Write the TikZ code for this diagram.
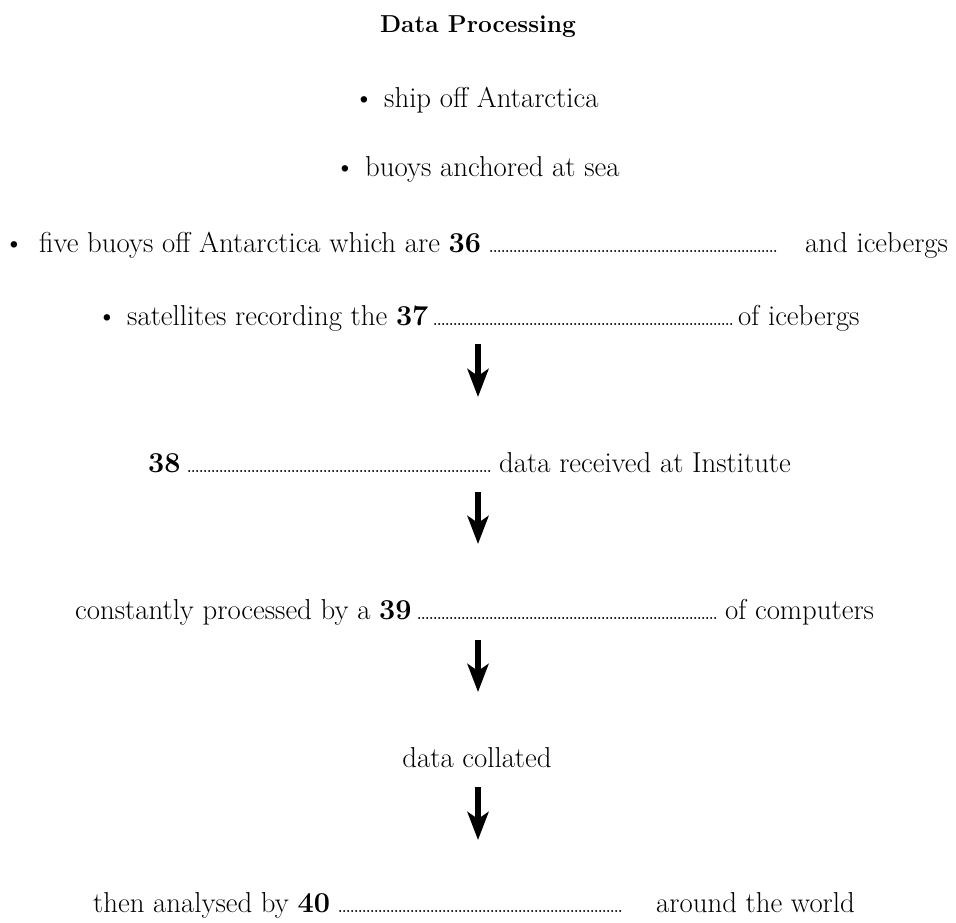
\documentclass[tikz,border=0pt]{standalone}
\usetikzlibrary{arrows.meta}
\newcommand\ansdots[1]{\makebox[#1]{\fontsize{14}{14}\selectfont\bfseries\leaders\hbox to 4pt{\hss.\hss}\hfill}}
\tikzset{
  txt/.style={inner sep=0pt, anchor=base west, font=\fontsize{28.8}{32}\selectfont},
  bul/.style={inner sep=0pt, anchor=base, font=\fontsize{28.8}{32}\selectfont},
  dotsnode/.style={inner sep=0pt, anchor=base west},
  titlestyle/.style={inner sep=0pt, anchor=base, font=\fontsize{24.5}{28}\selectfont\bfseries},
  flowarrow/.style={line width=6pt, -{Stealth[length=28pt,width=21pt,inset=7pt]}},
}
\begin{document}
\begin{tikzpicture}[x=1pt,y=-1pt]
\useasboundingbox (0,0) rectangle (956,923);
\node[titlestyle] (title) at (478,33) {Data Processing};
% row 1
\node[bul] (b1) at (364,108) {\textbullet};
\node[txt] (r1) at (384,108) {ship off Antarctica};
% row 2
\node[bul] (b2) at (345,176) {\textbullet};
\node[txt] (r2) at (365,176) {buoys anchored at sea};
% row 3
\node[bul] (b3) at (14,252) {\textbullet};
\node[txt] (r3a) at (39,252) {five buoys off Antarctica which are \textbf{36}};
\node[dotsnode] (r3d) at (489,252) {\ansdots{289pt}};
\node[txt] (r3b) at (805,252) {and icebergs};
% row 4
\node[bul] (b4) at (107,325) {\textbullet};
\node[txt] (r4a) at (127,325) {satellites recording the \textbf{37}};
\node[dotsnode] (r4d) at (433,325) {\ansdots{300pt}};
\node[txt] (r4b) at (738,325) {of icebergs};
% row 5
\node[txt] (r5a) at (148,472) {\textbf{38}};
\node[dotsnode] (r5d) at (187,472) {\ansdots{305pt}};
\node[txt] (r5b) at (499,472) {data received at Institute};
% row 6
\node[txt] (r6a) at (75,619) {constantly processed by a \textbf{39}};
\node[dotsnode] (r6d) at (417,619) {\ansdots{301pt}};
\node[txt] (r6b) at (725,619) {of computers};
% row 7
\node[txt, anchor=base] (r7) at (477,767) {data collated};
% row 8
\node[txt] (r8a) at (93,912) {then analysed by \textbf{40}};
\node[dotsnode] (r8d) at (338,912) {\ansdots{287pt}};
\node[txt] (r8b) at (656,912) {around the world};
% arrows
\coordinate (a1s) at (478,344); \coordinate (a1e) at (478,397);
\coordinate (a2s) at (478,492); \coordinate (a2e) at (478,544);
\coordinate (a3s) at (478,640); \coordinate (a3e) at (478,692);
\coordinate (a4s) at (478,787); \coordinate (a4e) at (478,840);
\draw[flowarrow] (a1s) -- (a1e);
\draw[flowarrow] (a2s) -- (a2e);
\draw[flowarrow] (a3s) -- (a3e);
\draw[flowarrow] (a4s) -- (a4e);
\end{tikzpicture}
\end{document}
